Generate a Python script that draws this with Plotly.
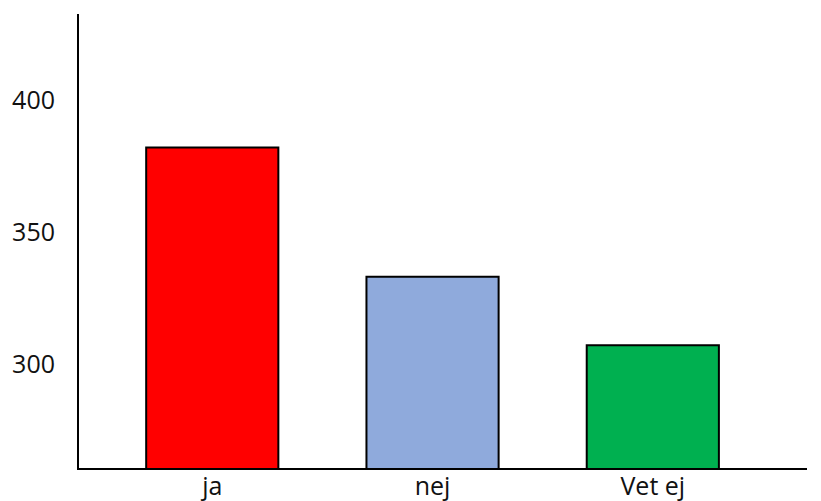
import plotly.graph_objects as go

categories = ["ja", "nej", "Vet ej"]
values = [382, 333, 307]
colors = ["#FF0000", "#8FAADC", "#00B050"]
tick_values = [300, 350, 400]
tick_labels = ["300", "350", "400"]

fig = go.Figure()
fig.add_trace(go.Bar(
    x=[0, 1, 2],
    y=values,
    width=0.6,
    marker=dict(color=colors, line=dict(color="black", width=2)),
))

# page body has an 8px margin; size the figure so the plot area lands where the reference has it
fig.update_layout(
    width=813, height=493,
    margin=dict(l=71, r=14, t=6, b=33),
    plot_bgcolor="white", paper_bgcolor="white",
    showlegend=False,
    font=dict(family="Open Sans, Liberation Sans, sans-serif", size=25, color="#111111"),
)
fig.update_xaxes(
    range=[-0.605, 2.70],
    tickvals=[0, 1, 2], ticktext=categories,
    showline=True, linecolor="black", linewidth=2,
    showgrid=False, zeroline=False, ticks="",
    ticklabelstandoff=-5, automargin=False,
)
fig.update_yaxes(
    range=[260.5, 432.6],
    tickvals=tick_values, ticktext=tick_labels,
    showline=True, linecolor="black", linewidth=2,
    showgrid=False, zeroline=False, ticks="",
    ticklabelstandoff=17, automargin=False,
)

fig.write_html("out.html")
